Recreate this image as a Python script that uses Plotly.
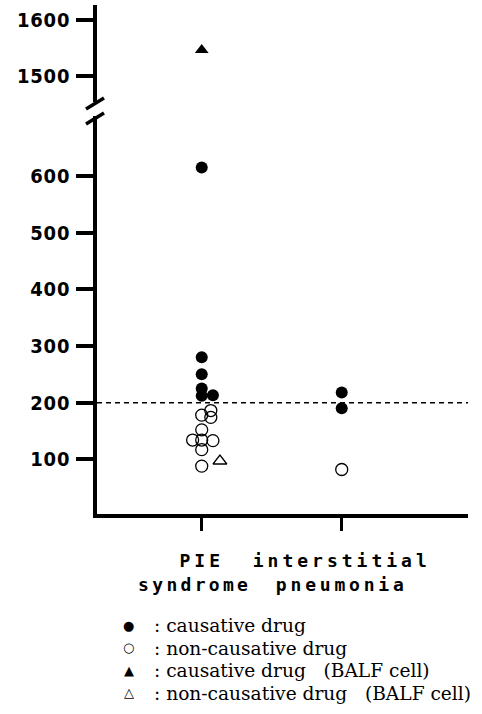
import plotly.graph_objects as go

# ---------------- data ----------------
categories = ["PIE syndrome", "interstitial pneumonia"]
cat_labels = [["PIE", "syndrome"], ["interstitial", "pneumonia"]]

# causative drug (filled circles)
causative_cat = [0, 0, 0, 0, 0, 0, 1, 1]
causative_val = [615, 280, 250, 225, 212, 213, 218, 190]

# non-causative drug (open circles)
noncausative_cat = [0, 0, 0, 0, 0, 0, 0, 0, 0, 1]
noncausative_val = [186, 178, 174, 152, 134, 134, 133, 117, 88, 82]

# causative drug, BALF cell (filled triangle, upper broken axis)
balf_causative_cat = [0]
balf_causative_val = [1546]

# non-causative drug, BALF cell (open triangle)
balf_noncausative_cat = [0]
balf_noncausative_val = [97]

threshold = 200

lower_ticks = [100, 200, 300, 400, 500, 600]
upper_ticks = [1500, 1600]

legend_symbols = ["\u25cf", "\u25cb", "\u25b2", "\u25b3"]
legend_labels = [": causative drug",
                 ": non-causative drug",
                 ": causative drug\u00a0\u00a0\u00a0(BALF cell)",
                 ": non-causative drug\u00a0\u00a0\u00a0(BALF cell)"]

# horizontal jitter (display offsets, category units)
causative_dx = [0, 0, 0, 0, 0, 0.08, 0, 0]
noncausative_dx = [0.065, 0, 0.065, 0, -0.065, 0, 0.08, 0, 0, 0]
balf_causative_dx = [0]
balf_noncausative_dx = [0.13]

# typographic letter-spacing per label line (px) and trailing pad
label_spacing = [[(4.0, ""), (3.3, "\u00a0")], [(4.0, ""), (3.8, "")]]


def shift(cats, dx):
    return [c + d for c, d in zip(cats, dx)]


def spaced(s, ls, pad=""):
    return "<span style='letter-spacing:%spx'>%s%s</span>" % (ls, s, pad)


XLABEL_FONT = dict(family="DejaVu Sans Mono", size=18, color="black", weight="bold")
YLABEL_FONT = dict(family="DejaVu Sans Condensed, DejaVu Sans", size=20, color="black", weight="bold")
LEG_FONT = dict(family="DejaVu Serif", size=18.6, color="black")

fig = go.Figure()

fig.add_trace(go.Scatter(
    x=shift(causative_cat, causative_dx), y=causative_val, mode="markers",
    name=legend_labels[0],
    marker=dict(symbol="circle", size=12, color="black", line=dict(width=0)),
    xaxis="x", yaxis="y", cliponaxis=False))

fig.add_trace(go.Scatter(
    x=shift(noncausative_cat, noncausative_dx), y=noncausative_val, mode="markers",
    name=legend_labels[1],
    marker=dict(symbol="circle-open", size=12, color="black", line=dict(width=1.3)),
    xaxis="x", yaxis="y", cliponaxis=False))

fig.add_trace(go.Scatter(
    x=shift(balf_causative_cat, balf_causative_dx), y=balf_causative_val, mode="markers",
    name=legend_labels[2],
    marker=dict(symbol="triangle-up", size=12, color="black", line=dict(width=0)),
    xaxis="x", yaxis="y2", cliponaxis=False))

fig.add_trace(go.Scatter(
    x=shift(balf_noncausative_cat, balf_noncausative_dx), y=balf_noncausative_val, mode="markers",
    name=legend_labels[3],
    marker=dict(symbol="triangle-up-open", size=12, color="black", line=dict(width=1.3)),
    xaxis="x", yaxis="y", cliponaxis=False))

# threshold dashed line
fig.add_shape(type="line", xref="x domain", yref="y", x0=0, x1=1, y0=threshold, y1=threshold,
              line=dict(color="black", width=1.5, dash="5px,4px"), layer="below")

# axis-break slashes (decoration, pixel-tuned in paper coords)
W, H, L, T = 371, 509, 97, 5
def px(xp):
    return (xp - L) / W
def py(yp):
    return (T + H - yp) / H
for (x0, y0, x1, y1) in [(86, 109, 104, 98), (86, 124, 104, 113)]:
    fig.add_shape(type="line", xref="paper", yref="paper",
                  x0=px(x0), y0=py(y0), x1=px(x1), y1=py(y1),
                  line=dict(color="black", width=3.5))

# legend drawn as text rows
row_y = [625, 647.5, 670, 692.5]
for sym, lab, yy in zip(legend_symbols, legend_labels, row_y):
    fig.add_annotation(xref="paper", yref="paper", x=px(128.5), y=py(yy),
                       text=sym, showarrow=False, xanchor="center", yanchor="middle",
                       font=dict(family="DejaVu Sans", size=13, color="black"))
    fig.add_annotation(xref="paper", yref="paper", x=px(152), y=py(yy + 0.5),
                       text=lab, showarrow=False, xanchor="left", yanchor="middle",
                       font=LEG_FONT)

tick_text_x = ["<br>".join(spaced(w, ls, pad) for w, (ls, pad) in zip(lbl, sp))
               for lbl, sp in zip(cat_labels, label_spacing)]

fig.update_layout(
    width=482, height=714,
    margin=dict(l=L, r=482 - L - W, t=T, b=714 - T - H, autoexpand=False),
    paper_bgcolor="white", plot_bgcolor="white",
    showlegend=False,
    xaxis=dict(range=[-0.748, 1.902], tickvals=[0, 1], ticktext=tick_text_x,
               tickangle=0,
               showline=True, linewidth=3.5, linecolor="black",
               ticks="outside", ticklen=13, tickwidth=3, tickcolor="black",
               showgrid=False, zeroline=False, tickfont=XLABEL_FONT,
               ticklabelstandoff=15, anchor="y"),
    yaxis=dict(domain=[0, 0.782], range=[3.5, 705.8], tickvals=lower_ticks,
               ticktext=[spaced(str(v), 0.8) for v in lower_ticks],
               showline=True, linewidth=3.5, linecolor="black",
               ticks="outside", ticklen=17, tickwidth=3.5, tickcolor="black",
               showgrid=False, zeroline=False,
               tickfont=YLABEL_FONT, ticklabelstandoff=2, anchor="x"),
    yaxis2=dict(domain=[0.8094, 1], range=[1454, 1625.7], tickvals=upper_ticks,
                ticktext=[spaced(str(v), 0.8) for v in upper_ticks],
                showline=True, linewidth=3.5, linecolor="black",
                ticks="outside", ticklen=17, tickwidth=3.5, tickcolor="black",
                showgrid=False, zeroline=False,
                tickfont=YLABEL_FONT, ticklabelstandoff=2, anchor="x"),
)

fig.write_html("out.html", config={"displayModeBar": False},
               post_script="document.body.style.margin='0';")
